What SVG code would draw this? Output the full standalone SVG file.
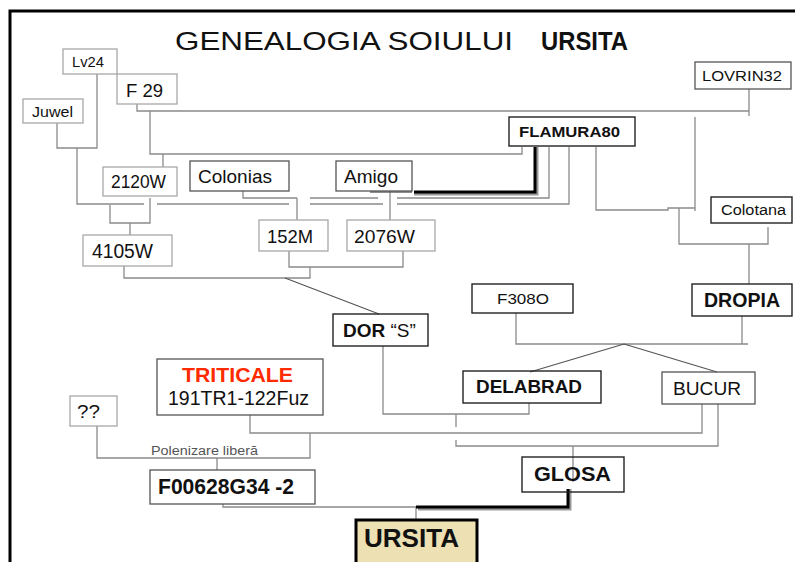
<svg xmlns="http://www.w3.org/2000/svg" width="795" height="562" viewBox="0 0 795 562">
<style>
.frame{stroke:#000;stroke-width:3;fill:none}
.c{fill:none;stroke:#8a8a8a;stroke-width:1.3}
.d{fill:none;stroke:#555;stroke-width:1.2}
.n1{fill:none;stroke:#a8a8a8;stroke-width:1.3}
.n2{fill:none;stroke:#555;stroke-width:1.3}
.n3{fill:none;stroke:#222;stroke-width:1.4}
text{font-family:"Liberation Sans",Arial,sans-serif;fill:#111}
.b{font-weight:bold}
</style>
<rect width="795" height="562" fill="#fff"/>
<path class="frame" d="M10,562 V11 H795"/>
<g id="title">
<text x="175" y="50" font-size="25" textLength="338" lengthAdjust="spacingAndGlyphs">GENEALOGIA SOIULUI</text>
<text x="541" y="50" font-size="25" class="b" textLength="87" lengthAdjust="spacingAndGlyphs">URSITA</text>
</g>
<g id="connectors">
<path class="c" d="M137,104 V111 H749 M749,89 V116"/>
<path class="c" d="M150,111 V154 H522 V147 M163,154 V167"/>
<path class="c" d="M57,123 V148 H97 V74 M77,148 V204 H144"/>
<path class="c" d="M157,204 H289 M310,204 H383 M397,204 H569 V147"/>
<path class="c" d="M243,191 V198 H297 M297,198 V220 M310,198 H378 M397,198 H549 V147"/>
<path class="c" d="M390,191 V220"/>
<path class="c" d="M370,192 H412" style="stroke:#666"/>
<path d="M537,147 V194 H414" fill="none" stroke="#999" stroke-width="3"/>
<path d="M535,147 V192 H414" fill="none" stroke="#000" stroke-width="3"/>
<path class="c" d="M596,147 V210 H668 V208 H695 M695,117 V211 M679,208 V244 H768 V227 M749,244 V284"/>
<path class="c" d="M150,198 V223 H110 V205 M130,223 V235"/>
<path class="c" d="M124,266 V278 H310 V267 M289,251 V267 H403 V251"/>
<path class="d" d="M285,278 L379,314"/>
<path class="c" d="M516,313 V344 H748 M742,316 V344"/>
<path class="d" d="M624,344 L530,372 M624,344 L717,372"/>
<path class="c" d="M383,346 V414 H529 V403 M456,414 V427"/>
<path class="c" d="M250,415 V433 H702 V404 M310,433 V458 H97 V426 M217,458 V470"/>
<path class="c" d="M456,440 V446 H718 V404 M573,446 V482"/>
<path class="c" d="M223,504 V507 H416 V519"/>
<path d="M570,489 V509 H418" fill="none" stroke="#999" stroke-width="3"/>
<path d="M568,489 V507 H416" fill="none" stroke="#000" stroke-width="3"/>
</g>
<g id="Lv24"><rect class="n1" x="63" y="49" width="54" height="25"/><text x="72" y="67" font-size="15" textLength="32" lengthAdjust="spacingAndGlyphs">Lv24</text></g>
<g id="F29"><rect class="n1" x="117" y="74" width="60" height="30"/><text x="126" y="97" font-size="18.5" textLength="37" lengthAdjust="spacingAndGlyphs">F 29</text></g>
<g id="Juwel"><rect class="n1" x="23" y="99" width="60" height="24"/><text x="32" y="117" font-size="15" textLength="41" lengthAdjust="spacingAndGlyphs">Juwel</text></g>
<g id="LOVRIN32"><rect class="n2" x="695" y="62" width="96" height="27"/><text x="702" y="80.5" font-size="15.5" textLength="80" lengthAdjust="spacingAndGlyphs">LOVRIN32</text></g>
<g id="FLAMURA80"><rect class="n3" x="509" y="117" width="126" height="29"/><text x="519" y="137" font-size="14" class="b" textLength="101" lengthAdjust="spacingAndGlyphs">FLAMURA80</text></g>
<g id="2120W"><rect class="n1" x="103" y="167" width="74" height="29"/><text x="111" y="188" font-size="17.5" textLength="55" lengthAdjust="spacingAndGlyphs">2120W</text></g>
<g id="Colonias"><rect class="n2" x="190" y="161" width="99" height="30"/><text x="198" y="183" font-size="19" textLength="74" lengthAdjust="spacingAndGlyphs">Colonias</text></g>
<g id="Amigo"><rect class="n2" x="336" y="161" width="76" height="30"/><text x="344" y="183" font-size="19" textLength="54" lengthAdjust="spacingAndGlyphs">Amigo</text></g>
<g id="4105W"><rect class="n1" x="83" y="235" width="89" height="31"/><text x="92" y="258" font-size="19.5" textLength="61" lengthAdjust="spacingAndGlyphs">4105W</text></g>
<g id="152M"><rect class="n1" x="259" y="220" width="69" height="31"/><text x="267" y="243" font-size="19" textLength="46" lengthAdjust="spacingAndGlyphs">152M</text></g>
<g id="2076W"><rect class="n1" x="347" y="220" width="88" height="31"/><text x="354" y="243" font-size="19" textLength="61" lengthAdjust="spacingAndGlyphs">2076W</text></g>
<g id="Colotana"><rect class="n3" x="711" y="197" width="81" height="26"/><text x="721" y="214.5" font-size="15.5" textLength="65" lengthAdjust="spacingAndGlyphs">Colotana</text></g>
<g id="F308O"><rect class="n3" x="472" y="284" width="101" height="29"/><text x="497" y="304" font-size="15.5" textLength="52" lengthAdjust="spacingAndGlyphs">F308O</text></g>
<g id="DROPIA"><rect class="n3" x="692" y="284" width="100" height="32"/><text x="704" y="307" font-size="19.5" class="b" textLength="76" lengthAdjust="spacingAndGlyphs">DROPIA</text></g>
<g id="DOR"><rect class="n3" x="333" y="314" width="95" height="32"/><text x="343" y="336.5" font-size="19"><tspan class="b">DOR</tspan> “S”</text></g>
<g id="DELABRAD"><rect class="n3" x="463" y="371" width="138" height="32"/><text x="476" y="393" font-size="19" class="b" textLength="106" lengthAdjust="spacingAndGlyphs">DELABRAD</text></g>
<g id="BUCUR"><rect class="n2" x="662" y="372" width="93" height="32"/><text x="673" y="395" font-size="19" textLength="68" lengthAdjust="spacingAndGlyphs">BUCUR</text></g>
<g id="TRITICALE"><rect class="n2" x="157" y="359" width="166" height="56"/><text x="182" y="382" font-size="21" class="b" style="fill:#ff2a00" textLength="111" lengthAdjust="spacingAndGlyphs">TRITICALE</text><text x="168" y="405" font-size="19.5" textLength="141" lengthAdjust="spacingAndGlyphs">191TR1-122Fuz</text></g>
<g id="qq"><rect class="n1" x="70" y="396" width="47" height="30"/><text x="77" y="418" font-size="19" textLength="23" lengthAdjust="spacingAndGlyphs">??</text></g>
<g id="polen"><text x="151" y="455" font-size="12.5" style="fill:#555" textLength="107" lengthAdjust="spacingAndGlyphs">Polenizare liberă</text></g>
<g id="F00628G34-2"><rect class="n2" x="150" y="470" width="165" height="34"/><text x="158" y="494" font-size="22" class="b" textLength="136" lengthAdjust="spacingAndGlyphs">F00628G34 -2</text></g>
<g id="GLOSA"><rect class="n3" x="522" y="457" width="102" height="35"/><text x="534" y="481" font-size="20" class="b" textLength="77" lengthAdjust="spacingAndGlyphs">GLOSA</text></g>
<g id="URSITA"><rect x="356" y="520" width="121" height="46" fill="#ede0b2" stroke="#000" stroke-width="3"/><text x="364" y="547" font-size="25" class="b" textLength="95" lengthAdjust="spacingAndGlyphs">URSITA</text></g>
</svg>
